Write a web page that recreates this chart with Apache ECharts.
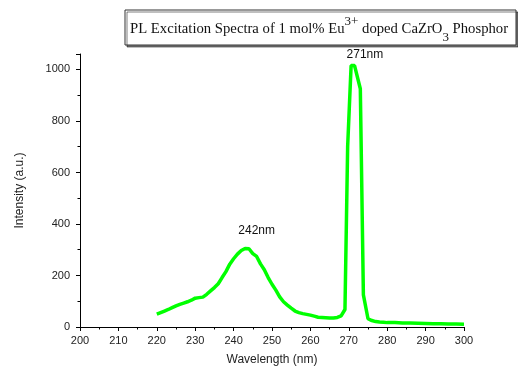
<!DOCTYPE html>
<html><head><meta charset="utf-8">
<script src="https://cdn.jsdelivr.net/npm/echarts@6/dist/echarts.min.js"></script>
<style>html,body{margin:0;padding:0;background:#fff}#c{width:518px;height:371px}</style>
</head><body><div id="c"></div>
<script>
var wavelengths = [220,221,222,223,224,225,226,227,228,229,230,231,232,233,234,235,236,237,238,239,240,241,242,243,244,245,246,247,248,249,250,251,252,253,254,255,256,257,258,259,260,261,262,263,264,265,266,267,268,269,269.7,270.6,271.5,273,273.8,275,276,277,278,279,280,282,284,286,288,290,292,294,296,298,300];
var intensities = [50,56,62,68,75,82,88,93,98,104,112,114,116,127,140,153,168,192,215,244,265,283,297,305,304,285,274,245,222,192,166,143,117,98,85,73,62,56,52,49,46,42,38,37,36,35,35,37,43,68,700,1015,1015,925,125,32,25,21,19,18,17,17,16,16,15,14,13,13,12,12,11];
var peakLabels = ['242nm','271nm'];
var peakLabelCoords = [[246,373],[274.2,1058]];
var titleParts = ['PL Excitation Spectra of 1 mol% Eu','3+',' doped CaZrO','3',' Phosphor'];

var data = wavelengths.map(function(w,i){return [w,intensities[i]];});
var chart = echarts.init(document.getElementById('c'));
var axisCommon = {
  axisLine:{show:true,lineStyle:{color:'#000',width:1}},
  axisTick:{show:true,inside:false,length:4,lineStyle:{color:'#000'}},
  minorTick:{show:true,splitNumber:2,length:2.5,lineStyle:{color:'#000'}},
  splitLine:{show:false},
  axisLabel:{color:'#222',fontFamily:'Liberation Sans',fontSize:11},
  nameTextStyle:{color:'#222',fontFamily:'Liberation Sans',fontSize:12}
};
chart.setOption({
  animation:false,
  grid:{left:80,right:54,top:54,bottom:42},
  xAxis:Object.assign({},axisCommon,{type:'value',min:200,max:300,interval:10,
    name:'Wavelength (nm)',nameLocation:'middle',nameGap:27,
    axisLabel:Object.assign({},axisCommon.axisLabel,{margin:8})}),
  yAxis:Object.assign({},axisCommon,{type:'value',min:0,max:1060,interval:200,
    name:'Intensity (a.u.)',nameLocation:'middle',nameGap:54,
    axisLabel:Object.assign({},axisCommon.axisLabel,{margin:10,
      formatter:function(v){return v%200===0?v:'';}})}),
  series:[{type:'line',data:data,showSymbol:false,smooth:false,
    lineStyle:{color:'#00ff00',width:3.5},itemStyle:{color:'#00ff00'},
    markPoint:{symbol:'circle',symbolSize:0,
      label:{show:true,position:'inside',color:'#111',fontFamily:'Liberation Sans',fontSize:12,
        formatter:function(p){return p.name;}},
      data:peakLabels.map(function(t,i){return {name:t,coord:peakLabelCoords[i]};})}
  }],
  graphic:[
    {type:'rect',shape:{x:125,y:10,width:391,height:35},
     style:{fill:'#fff',stroke:'#333',lineWidth:1,shadowColor:'rgba(0,0,0,0.5)',shadowOffsetX:2,shadowOffsetY:2,shadowBlur:0},z:10},
    {type:'text',x:130,y:29.5,z:11,
     style:{text:'{a|'+titleParts[0]+'}{sup|'+titleParts[1]+'}{a|'+titleParts[2]+'}{sub|'+titleParts[3]+'}{a|'+titleParts[4]+'}',
       verticalAlign:'middle',align:'left',
       rich:{
         a:{fontFamily:'Liberation Serif',fontSize:14.7,fill:'#111',color:'#111',lineHeight:29,verticalAlign:'middle'},
         sup:{fontFamily:'Liberation Serif',fontSize:13,fill:'#111',color:'#111',lineHeight:29,verticalAlign:'top'},
         sub:{fontFamily:'Liberation Serif',fontSize:13,fill:'#111',color:'#111',lineHeight:29,verticalAlign:'bottom'}
       }}}
  ]
});
</script></body></html>
